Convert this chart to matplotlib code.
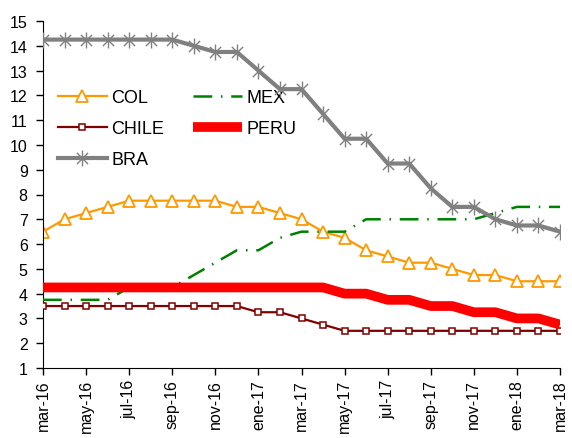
import matplotlib
matplotlib.use("Agg")
from matplotlib import pyplot as plt
from matplotlib.path import Path

plt.rcParams['font.family'] = ['Liberation Sans', 'DejaVu Sans']

# monthly policy rates, mar-16 .. mar-18
months = ["mar-16", "abr-16", "may-16", "jun-16", "jul-16", "ago-16", "sep-16", "oct-16",
          "nov-16", "dic-16", "ene-17", "feb-17", "mar-17", "abr-17", "may-17", "jun-17",
          "jul-17", "ago-17", "sep-17", "oct-17", "nov-17", "dic-17", "ene-18", "feb-18", "mar-18"]

col = [6.5, 7.0, 7.25, 7.5, 7.75, 7.75, 7.75, 7.75, 7.75, 7.5, 7.5, 7.25, 7.0,
       6.5, 6.25, 5.75, 5.5, 5.25, 5.25, 5.0, 4.75, 4.75, 4.5, 4.5, 4.5]
mex = [3.75, 3.75, 3.75, 3.75, 4.25, 4.25, 4.25, 4.75, 5.25, 5.75, 5.75, 6.25, 6.5,
       6.5, 6.5, 7.0, 7.0, 7.0, 7.0, 7.0, 7.0, 7.25, 7.5, 7.5, 7.5]
chile = [3.5, 3.5, 3.5, 3.5, 3.5, 3.5, 3.5, 3.5, 3.5, 3.5, 3.25, 3.25, 3.0,
         2.75, 2.5, 2.5, 2.5, 2.5, 2.5, 2.5, 2.5, 2.5, 2.5, 2.5, 2.5]
peru = [4.25, 4.25, 4.25, 4.25, 4.25, 4.25, 4.25, 4.25, 4.25, 4.25, 4.25, 4.25, 4.25,
        4.25, 4.0, 4.0, 3.75, 3.75, 3.5, 3.5, 3.25, 3.25, 3.0, 3.0, 2.75]
bra = [14.25, 14.25, 14.25, 14.25, 14.25, 14.25, 14.25, 14.0, 13.75, 13.75, 13.0, 12.25, 12.25,
       11.25, 10.25, 10.25, 9.25, 9.25, 8.25, 7.5, 7.5, 7.0, 6.75, 6.75, 6.5]

x = list(range(len(months)))

# excel-like star: x plus vertical bar
star = Path([(-0.7, -0.7), (0.7, 0.7), (-0.7, 0.7), (0.7, -0.7), (0, -1), (0, 1)],
            [Path.MOVETO, Path.LINETO, Path.MOVETO, Path.LINETO, Path.MOVETO, Path.LINETO])

fig = plt.figure(figsize=(5.72, 4.39), dpi=100)
ax = fig.add_axes([43/572, 1 - 369/439, (560 - 43)/572, (369 - 22)/439])

ax.plot(x, col, color='#FF9900', lw=1.6, marker='^', ms=8, mfc='white', mec='#FF9900',
        mew=1.3, label='COL', zorder=2)
ax.plot(x, mex, color='#008000', lw=1.8, linestyle=(0, (7.5, 3.5, 0.6, 3.5)), label='MEX', zorder=3)
ax.plot(x, chile, color='#800000', lw=1.6, marker='s', ms=5, mfc='white', mec='#800000',
        mew=1.1, label='CHILE', zorder=4)
ax.plot(x, peru, color='#FF0000', lw=7, solid_capstyle='butt', label='PERU', zorder=5)
ax.plot(x, bra, color='#808080', lw=3, marker=star, ms=11.5, mec='#808080', mew=1.0,
        label='BRA', zorder=6)

ax.set_xlim(0, 24)
ax.set_ylim(1, 15)
ax.set_yticks(range(1, 16))
ax.set_xticks(x[::2])
ax.set_xticklabels(months[::2], rotation=90)
ax.tick_params(axis='both', labelsize=11.5, length=5, width=1, direction='out', colors='black')
ax.tick_params(axis='y', pad=6)
ax.tick_params(axis='x', pad=3)
ax.spines['top'].set_visible(False)
ax.spines['right'].set_visible(False)

h, l = ax.get_legend_handles_labels()
order = [0, 2, 4, 1, 3]
ax.legend([h[i] for i in order], [l[i] for i in order], ncol=2, frameon=False,
          fontsize=13, loc='upper left', bbox_to_anchor=(58/572, 1 - 90/439),
          bbox_transform=fig.transFigure, borderpad=0, borderaxespad=0,
          handlelength=2.7, handletextpad=0.25, labelspacing=0.78, columnspacing=1.6)

fig.savefig('out.png', dpi=100)
